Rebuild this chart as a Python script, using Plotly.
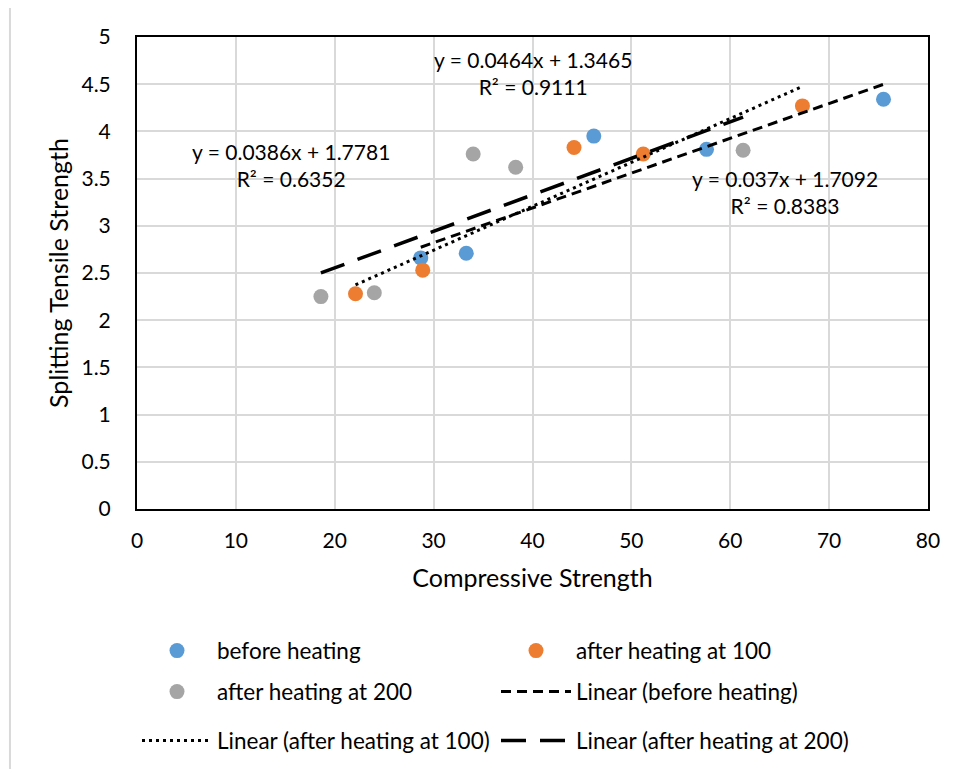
import numpy as np
import plotly.graph_objects as go

# ---- data ----
series_names = ["before heating", "after heating at 100", "after heating at 200"]
x_before = [28.7, 33.3, 46.2, 57.6, 75.5]
y_before = [2.66, 2.71, 3.95, 3.81, 4.34]
x_100 = [22.1, 28.9, 44.2, 51.2, 67.3]
y_100 = [2.28, 2.53, 3.83, 3.76, 4.27]
x_200 = [18.6, 24.0, 34.0, 38.3, 61.3]
y_200 = [2.25, 2.29, 3.76, 3.62, 3.80]
eq_before = "y = 0.037x + 1.7092<br>R² = 0.8383"
eq_100 = "y = 0.0464x + 1.3465<br>R² = 0.9111"
eq_200 = "y = 0.0386x + 1.7781<br>R² = 0.6352"
x_ticks = [0, 10, 20, 30, 40, 50, 60, 70, 80]
y_ticks = [0, 0.5, 1, 1.5, 2, 2.5, 3, 3.5, 4, 4.5, 5]

colors = ["#5B9BD5", "#ED7D31", "#A5A5A5"]
dashes = ["10px,6px", "3px,4px", "25px,14px"]
widths = [3, 3, 3.5]
FONT = "Lato, 'Open Sans', sans-serif"

fig = go.Figure()
xs = [x_before, x_100, x_200]
ys = [y_before, y_100, y_200]
legend_of_marker = ["legend", "legend", "legend2"]
legend_of_line = ["legend2", "legend3", "legend3"]

for i in range(3):
    fig.add_trace(go.Scatter(
        x=xs[i], y=ys[i], mode="markers", name=series_names[i],
        marker=dict(color=colors[i], size=15, line=dict(width=0)),
        legend=legend_of_marker[i]))

for i in range(3):
    m, c = np.polyfit(xs[i], ys[i], 1)
    xl = np.array([min(xs[i]), max(xs[i])])
    fig.add_trace(go.Scatter(
        x=xl, y=m * xl + c, mode="lines", name=f"Linear ({series_names[i]})",
        line=dict(color="black", width=widths[i], dash=dashes[i]),
        legend=legend_of_line[i]))

# equation labels
for txt, (ax, ay) in zip([eq_before, eq_100, eq_200], [(65.5, 3.36), (40.05, 4.62), (15.6, 3.64)]):
    fig.add_annotation(x=ax, y=ay, text=txt, showarrow=False,
                       font=dict(family=FONT, size=21, color="black"), align="center")

# outer chart border
fig.add_shape(type="rect", xref="paper", yref="paper",
              x0=-0.1606, y0=-0.7, x1=1.2, y1=1.0636,
              line=dict(color="#D9D9D9", width=2), layer="below")

leg_common = dict(orientation="h", x=0.0, xanchor="left", yanchor="middle",
                  entrywidth=274, entrywidthmode="pixels", itemwidth=70,
                  font=dict(family=FONT, size=22.5, color="black"),
                  bgcolor="rgba(0,0,0,0)", traceorder="normal")

fig.update_layout(
    width=960, height=769,
    margin=dict(l=129, r=40, t=29, b=268, autoexpand=False),
    paper_bgcolor="white", plot_bgcolor="white",
    font=dict(family=FONT, size=21, color="black"),
    legend=dict(y=-0.3008, **leg_common),
    legend2=dict(y=-0.3877, **leg_common),
    legend3=dict(y=-0.4915, **leg_common),
    xaxis=dict(range=[0, 80], tickvals=x_ticks, showgrid=True, gridcolor="#D9D9D9", gridwidth=2,
               showline=True, linecolor="black", linewidth=2, mirror=True, zeroline=False,
               ticks="", ticklabelstandoff=12, automargin=False,
               tickfont=dict(family=FONT, size=21),
               title=dict(text="Compressive Strength", font=dict(family=FONT, size=25), standoff=18)),
    yaxis=dict(range=[0, 5], tickvals=y_ticks, showgrid=True, gridcolor="#D9D9D9", gridwidth=2,
               showline=True, linecolor="black", linewidth=2, mirror=True, zeroline=False,
               ticks="", ticklabelstandoff=20, automargin=False,
               tickfont=dict(family=FONT, size=21),
               title=dict(text="Splitting Tensile Strength", font=dict(family=FONT, size=25), standoff=6)),
)

fig.write_html("out.html")
